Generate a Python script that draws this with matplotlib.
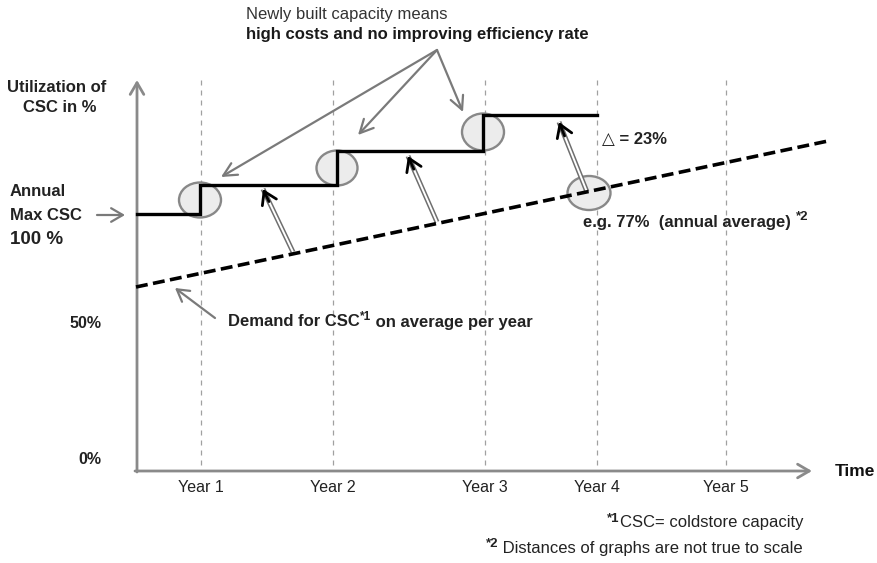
import matplotlib
matplotlib.use("Agg")
import matplotlib.pyplot as plt
from matplotlib.patches import Ellipse

W, H = 877, 563

# diagram drawn in pixel units, y grows downward
origin = (137, 471)
y_axis_top = 80
x_axis_end = 812

year_labels = ["Year 1", "Year 2", "Year 3", "Year 4", "Year 5"]
year_x = [201, 333, 485, 597, 726]

# installed capacity: a step at each new build
step_x = [137, 200, 200, 337, 337, 483, 483, 597]
step_y = [214, 214, 185, 185, 151, 151, 115, 115]

# average demand trend
demand_x = [136, 828]
demand_y = [287, 141]

# highlighted points (centre x, centre y, width, height)
circles = [(200, 200, 42, 35), (337, 168, 41, 35), (483, 132, 42, 37), (589, 193, 43, 34)]

# gap arrows from demand line up to capacity
gap_tail = [(293, 252), (437, 222), (587, 192)]
gap_head = [(263, 189), (408, 156), (559, 122)]

# callout arrows
callout_src = (437, 50)
callout_dst = [(221, 177), (358, 135), (463, 112)]

AXIS_GREY = "#8a8a8a"
BOLD = dict(family=["Liberation Sans", "DejaVu Sans"], weight="bold")
NARROW = ["Liberation Sans Narrow", "Liberation Sans", "DejaVu Sans"]

fig = plt.figure(figsize=(W / 100, H / 100), dpi=100)
ax = fig.add_axes([0, 0, 1, 1])
ax.set_xlim(0, W)
ax.set_ylim(H, 0)
ax.axis("off")

# axes with arrow heads
ax.annotate("", xy=(origin[0], y_axis_top), xytext=(origin[0], origin[1] + 1),
            arrowprops=dict(arrowstyle="->,head_length=0.6,head_width=0.35",
                            color=AXIS_GREY, lw=2, mutation_scale=14, shrinkA=0, shrinkB=0))
ax.annotate("", xy=(x_axis_end, origin[1]), xytext=(origin[0] - 2, origin[1]),
            arrowprops=dict(arrowstyle="->,head_length=0.6,head_width=0.35",
                            color=AXIS_GREY, lw=2, mutation_scale=14, shrinkA=0, shrinkB=0))

# year gridlines and labels
for xv, lab in zip(year_x, year_labels):
    ax.plot([xv, xv], [y_axis_top, origin[1]], color="#a0a0a0", lw=0.9,
            linestyle=(0, (4, 4)), zorder=1)
    ax.text(xv, 488, lab, ha="center", va="center", fontsize=11.5,
            family=NARROW, color="#222222")

# highlight ellipses
for cx, cy, w, h in circles:
    ax.add_patch(Ellipse((cx, cy), w, h, facecolor="#ececec",
                         edgecolor="#888888", lw=1.7, zorder=2))

# capacity steps
ax.plot(step_x, step_y, color="black", lw=2.4, solid_joinstyle="miter", zorder=3)

# demand trend
ax.plot(demand_x, demand_y, color="black", lw=2.6, linestyle=(0, (3.3, 1.5)), zorder=4)

# hollow gap arrows with open black heads
for (tx, ty), (hx, hy) in zip(gap_tail, gap_head):
    ax.plot([tx, hx], [ty, hy], color="#6f6f6f", lw=3.6, solid_capstyle="butt", zorder=3)
    ax.plot([tx, hx], [ty, hy], color="white", lw=1.4, solid_capstyle="butt", zorder=3)
    dx, dy = hx - tx, hy - ty
    ax.annotate("", xy=(hx, hy), xytext=(hx - dx * 0.2, hy - dy * 0.2),
                arrowprops=dict(arrowstyle="->,head_length=0.55,head_width=0.35",
                                color="black", lw=2, mutation_scale=16,
                                shrinkA=0, shrinkB=0), zorder=5)

# callout arrows
for dst in callout_dst:
    ax.annotate("", xy=dst, xytext=callout_src,
                arrowprops=dict(arrowstyle="->,head_length=0.6,head_width=0.3",
                                color="#7a7a7a", lw=1.6, mutation_scale=16,
                                shrinkA=0, shrinkB=0))
ax.annotate("", xy=(125, 215), xytext=(97, 215),
            arrowprops=dict(arrowstyle="->,head_length=0.6,head_width=0.35",
                            color="#7a7a7a", lw=1.6, mutation_scale=14, shrinkA=0, shrinkB=0))
ax.annotate("", xy=(175, 288), xytext=(215, 318),
            arrowprops=dict(arrowstyle="->,head_length=0.6,head_width=0.35",
                            color="#7a7a7a", lw=1.6, mutation_scale=14, shrinkA=0, shrinkB=0))

renderer = fig.canvas.get_renderer()


def rich_text(x, y, parts, ha="left"):
    """Place text pieces side by side; each part is (text, rise_px, kwargs)."""
    items = []
    for s, rise, kw in parts:
        items.append(ax.text(0, y - rise, s, ha="left", va="center", **kw))
    widths = [t.get_window_extent(renderer).width for t in items]
    cur = x - sum(widths) if ha == "right" else x
    for t, w in zip(items, widths):
        t.set_x(cur)
        cur += w


# headline
ax.text(246, 15, "Newly built capacity means", fontsize=12, color="#333333",
        family=["Liberation Sans", "DejaVu Sans"], va="center")
ax.text(246, 35, "high costs and no improving efficiency rate", fontsize=12,
        color="#1a1a1a", va="center", **BOLD)

# y-axis annotations
ax.text(57, 87, "Utilization of", fontsize=12, ha="center", va="center", color="#222", **BOLD)
ax.text(60, 108, "CSC in %", fontsize=12, ha="center", va="center", color="#222", **BOLD)
ax.text(10, 192, "Annual", fontsize=12, va="center", color="#222", **BOLD)
ax.text(10, 216, "Max CSC", fontsize=12, va="center", color="#222", **BOLD)
ax.text(10, 240, "100 %", fontsize=13.5, va="center", color="#222", **BOLD)
ax.text(70, 323, "50%", fontsize=11.5, va="center", color="#222", **BOLD)
ax.text(78, 459, "0%", fontsize=11.5, va="center", color="#222", **BOLD)
ax.text(835, 471, "Time", fontsize=12.5, va="center", color="#111",
        family=NARROW, weight="bold")

# callout texts
sup = dict(fontsize=8.5, color="#222", **BOLD)
rich_text(228, 322, [("Demand for CSC", 0, dict(fontsize=12, color="#222", **BOLD)),
                     ("*1", 5, sup),
                     (" on average per year", 0, dict(fontsize=12, color="#222", **BOLD))])
ax.text(602, 139, "\u25b3 = 23%", fontsize=12, va="center", color="#222", **BOLD)
rich_text(583, 222, [("e.g. 77%  (annual average) ", 0, dict(fontsize=12, color="#222", **BOLD)),
                     ("*2", 5, dict(fontsize=9.5, color="#222", **BOLD))])

# footnotes
note = dict(fontsize=12, color="#222", family=NARROW)
rich_text(803, 523, [("*1", 4, dict(fontsize=9.5, color="#222", **BOLD)),
                     ("CSC= coldstore capacity", 0, note)], ha="right")
rich_text(803, 548, [("*2", 4, dict(fontsize=9.5, color="#222", **BOLD)),
                     (" Distances of graphs are not true to scale", 0, note)], ha="right")

fig.savefig("out.png", dpi=100)
